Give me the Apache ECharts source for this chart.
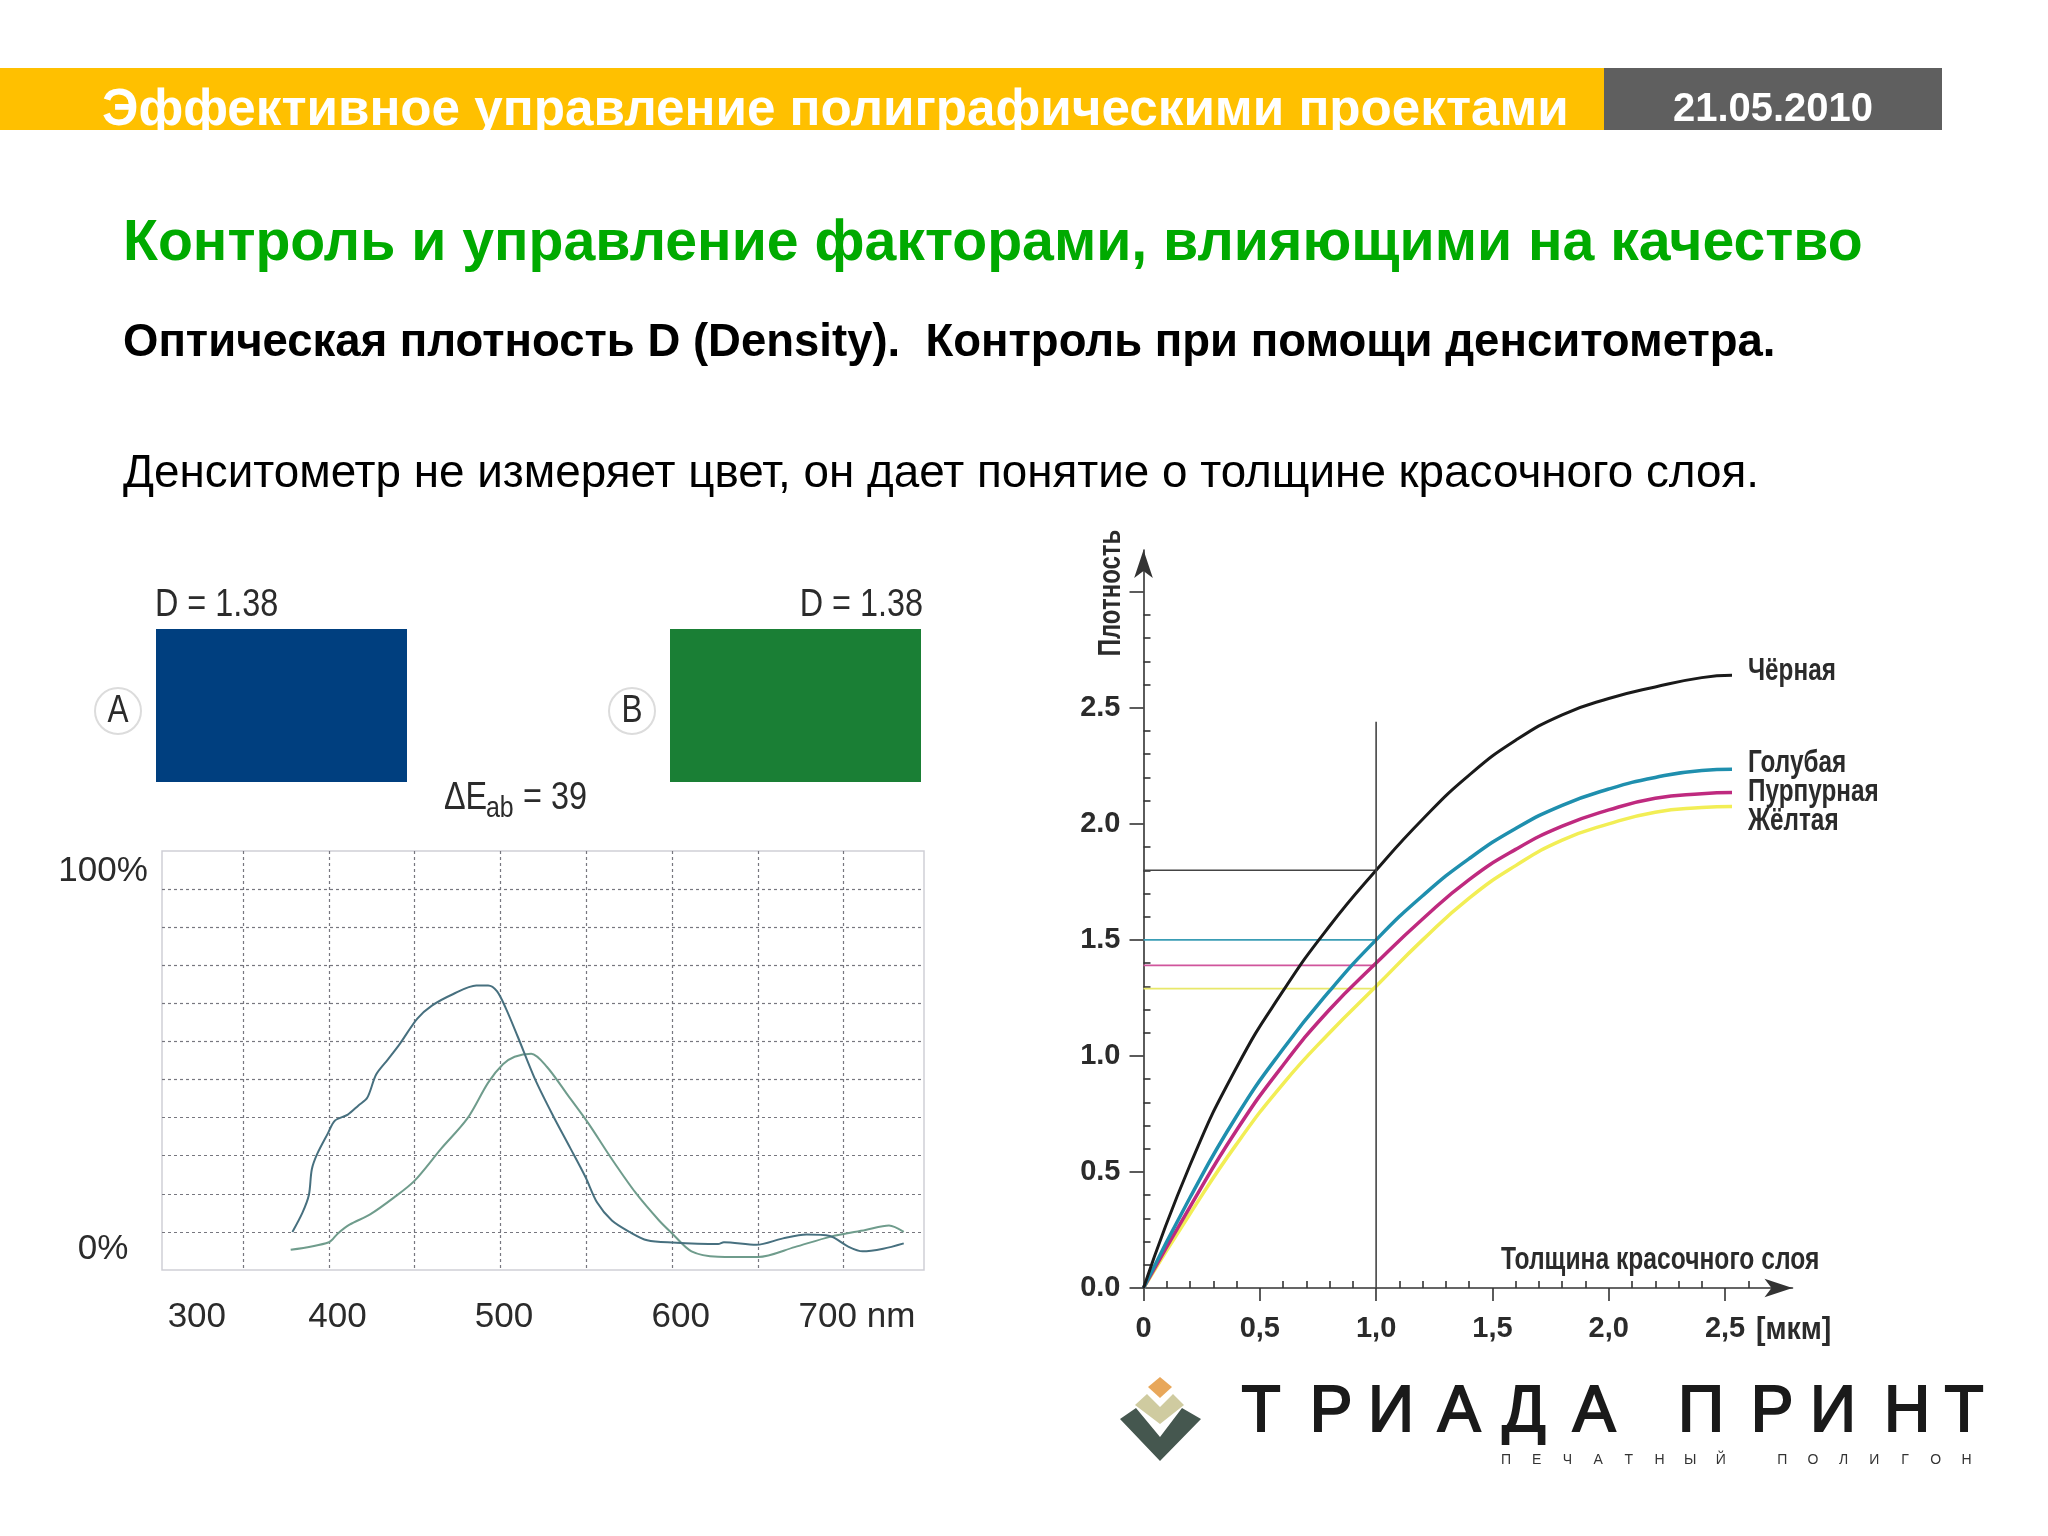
<!DOCTYPE html>
<html>
<head>
<meta charset="utf-8">
<script src="https://cdn.jsdelivr.net/npm/echarts@6/dist/echarts.min.js"></script>
<style>
  html, body { margin: 0; padding: 0; background: #fff; }
  #chart { width: 2048px; height: 1536px; }
</style>
</head>
<body>
<div id="chart"></div>
<script>
// spectrum chart, wavelength in nm and reflectance in %
const blueNm = [378.7, 384.5, 388.3, 390, 393.1, 399.3, 403.4, 411, 417.2, 422.3, 427.5, 434.4, 441.2, 451.5, 460, 472.2, 485.9, 492.8, 497.9, 503.1, 510, 520.3, 530.6, 540.9, 549.5, 556.3, 564.9, 575.2, 585.5, 600, 626.8, 630.2, 649.1, 664.6, 678.3, 692, 702.4, 711, 723, 735]
const bluePct = [0, 5, 9.7, 16.4, 20.4, 25.8, 29.2, 30.8, 33.2, 35.2, 41.3, 45.3, 49.3, 56, 59.4, 62.4, 64.7, 64.7, 63.2, 58.7, 51.3, 39.9, 30.5, 21.8, 14.4, 7.7, 3, 0, -2.2, -2.8, -3.2, -2.7, -3.4, -1.7, -0.7, -1.1, -3.8, -5.1, -4.4, -3]
const greenNm = [377.7, 400, 405.2, 412, 424, 437.8, 449.8, 465.3, 480.7, 492.8, 501.4, 508.2, 517.9, 527.1, 539.2, 551.2, 564.9, 578.7, 592.4, 600, 611.3, 626.8, 650.1, 671.4, 692, 712.7, 726.4, 735]
const greenPct = [-4.7, -2.7, -0.4, 1.9, 4.6, 9, 13.4, 21.8, 29.8, 39.2, 44, 46, 46.8, 43.3, 35.9, 28.5, 19.1, 10.3, 3, -0.4, -5.1, -6.5, -6.6, -4, -1.3, 0.5, 1.7, 0]
const nmGrid = [350, 400, 450, 500, 550, 600, 650, 700]
const pctGrid = [0, 10, 20, 30, 40, 50, 60, 70, 80, 90]
// the print has these labels off the grid lines, so they sit at their own axis values
const nmLabelAt = [323, 405, 502, 605, 707.7]
const nmLabels = ['300', '400', '500', '600', '700 nm']
const pctLabelAt = [-4.5, 94.7]
const pctLabels = ['0%', '100%']

// density chart, ink film thickness in micrometres
const thickness = [0, 0.2, 0.4, 0.6, 0.8, 1, 1.2, 1.4, 1.6, 1.8, 2, 2.2, 2.4, 2.53]
const blackD = [0, 0.53, 0.95, 1.28, 1.56, 1.8, 2.02, 2.21, 2.36, 2.47, 2.54, 2.59, 2.63, 2.64]
const cyanD = [0, 0.39, 0.74, 1.03, 1.28, 1.5, 1.69, 1.85, 1.98, 2.08, 2.15, 2.2, 2.23, 2.235]
const magentaD = [0, 0.35, 0.68, 0.96, 1.2, 1.4, 1.59, 1.76, 1.89, 1.99, 2.06, 2.11, 2.13, 2.135]
const yellowD = [0, 0.32, 0.62, 0.88, 1.1, 1.3, 1.5, 1.68, 1.82, 1.93, 2, 2.05, 2.07, 2.075]
const inkNames = ['Чёрная', 'Голубая', 'Пурпурная', 'Жёлтая']
const readX = 1
const readTop = 2.44
const readLevels = [1.8, 1.5, 1.39, 1.29]
const thicknessLabels = [0, 0.5, 1, 1.5, 2, 2.5]
const thicknessMinor = [0.1, 0.2, 0.3, 0.4, 0.6, 0.7, 0.8, 0.9, 1.1, 1.2, 1.3, 1.4, 1.6, 1.7, 1.8, 1.9, 2.1, 2.2, 2.3, 2.4, 2.6]
const densityLabels = [0, 0.5, 1, 1.5, 2, 2.5]
const densityMajor = [0, 0.5, 1, 1.5, 2, 2.5, 3]
const densityMinor = [0.1, 0.2, 0.3, 0.4, 0.6, 0.7, 0.8, 0.9, 1.1, 1.2, 1.3, 1.4, 1.6, 1.7, 1.8, 1.9, 2.1, 2.2, 2.3, 2.4, 2.6, 2.7, 2.8, 2.9]

const logoMain = [['Т', 1261], ['Р', 1331], ['И', 1391], ['А', 1459], ['Д', 1524], ['А', 1594], ['П', 1701], ['Р', 1772], ['И', 1833], ['Н', 1907], ['Т', 1964]]
const logoSub = 'ПЕЧАТНЫЙ ПОЛИГОН'

// no narrow face is installed, scaleX squeezes the free standing texts instead
const SANS = '"Liberation Sans", Arial, sans-serif'
const ink = '#2b2b2b'

function zip(xs, ys) {
  return xs.map((x, i) => [x, ys[i]])
}

function text(x, y, str, font, fill, align, sx, rotation) {
  return {
    type: 'text',
    x: x,
    y: y,
    scaleX: sx || 1,
    rotation: rotation || 0,
    z: 10,
    style: { text: str, font: font, fill: fill || '#000', align: align || 'left', verticalAlign: 'middle' }
  }
}

function rect(x, y, w, h, fill) {
  return { type: 'rect', shape: { x: x, y: y, width: w, height: h }, style: { fill: fill } }
}

function poly(points, fill) {
  return { type: 'polygon', shape: { points: points }, style: { fill: fill } }
}

function badge(x, y, letter) {
  return [
    { type: 'circle', shape: { cx: x, cy: y, r: 23 }, style: { fill: '#fff', stroke: '#dcdcdc', lineWidth: 2 } },
    text(x, y + 1, letter, '38px ' + SANS, ink, 'center', 0.83)
  ]
}

const graphics = [
  rect(0, 68, 1604, 62, '#ffc000'),
  rect(1604, 68, 338, 62, '#5f5f5f'),
  text(102, 111, 'Эффективное управление полиграфическими проектами', 'bold 51.2px ' + SANS, '#fff'),
  text(1773, 110, '21.05.2010', 'bold 40px ' + SANS, '#fff', 'center'),
  text(123, 244, 'Контроль и управление факторами, влияющими на качество', 'bold 57.2px ' + SANS, '#00aa00'),
  text(123, 343, 'Оптическая плотность D (Density).  Контроль при помощи денситометра.', 'bold 45.5px ' + SANS, '#000'),
  text(123, 474, 'Денситометр не измеряет цвет, он дает понятие о толщине красочного слоя.', '45.8px ' + SANS, '#000'),

  text(155, 605, 'D = 1.38', '39px ' + SANS, ink, 'left', 0.83),
  text(923, 605, 'D = 1.38', '39px ' + SANS, ink, 'right', 0.83),
  rect(156, 629, 251, 153, '#003f7f'),
  rect(670, 629, 251, 153, '#1a7f35'),
  ...badge(118, 711, 'A'),
  ...badge(632, 711, 'B'),
  text(444, 798, 'ΔE', '39px ' + SANS, ink, 'left', 0.83),
  text(486, 809, 'ab', '30px ' + SANS, ink, 'left', 0.83),
  text(523, 798, '= 39', '39px ' + SANS, ink, 'left', 0.83),

  text(1111, 593, 'Плотность', 'bold 32px ' + SANS, ink, 'center', 0.75, Math.PI / 2),
  text(1501, 1260, 'Толщина красочного слоя', 'bold 32px ' + SANS, ink, 'left', 0.77),
  text(1756, 1330, '[мкм]', 'bold 32px ' + SANS, ink, 'left', 0.89),
  text(1748, 671, inkNames[0], 'bold 32px ' + SANS, ink, 'left', 0.76),
  text(1748, 763, inkNames[1], 'bold 32px ' + SANS, ink, 'left', 0.76),
  text(1748, 792, inkNames[2], 'bold 32px ' + SANS, ink, 'left', 0.76),
  text(1748, 821, inkNames[3], 'bold 32px ' + SANS, ink, 'left', 0.76),

  poly([[1160, 1377], [1172, 1387], [1160, 1398], [1148, 1387]], '#e8a75a'),
  poly([[1147, 1394], [1160, 1407], [1173, 1394], [1184, 1405], [1160, 1424], [1135, 1405]], '#cfcba0'),
  poly([[1136, 1408], [1160, 1437], [1182, 1408], [1201, 1419], [1160, 1461], [1120, 1419]], '#45574f')
]
logoMain.forEach(p => {
  const letter = text(p[1], 1413, p[0], '64px ' + SANS, '#1a1a1a', 'center')
  letter.style.stroke = '#1a1a1a'
  letter.style.lineWidth = 2
  graphics.push(letter)
})
logoSub.split('').forEach((ch, i) => graphics.push(text(1506 + i * 30.7, 1460, ch, '14px ' + SANS, '#333', 'center')))

function curve(name, data, color, width) {
  return {
    name: name,
    type: 'line',
    xAxisIndex: 1,
    yAxisIndex: 1,
    data: zip(thickness, data),
    smooth: 0.5,
    showSymbol: false,
    lineStyle: { color: color, width: width }
  }
}

function level(y, color) {
  return {
    type: 'line',
    xAxisIndex: 1,
    yAxisIndex: 1,
    data: [[0, y], [readX, y]],
    showSymbol: false,
    lineStyle: { color: color, width: 1.6 }
  }
}

function spectrum(xs, ys, color) {
  return {
    type: 'line',
    data: zip(xs, ys),
    smooth: 0.3,
    showSymbol: false,
    lineStyle: { color: color, width: 2 }
  }
}

const axisInk = { color: '#333', width: 1.6 }

const option = {
  animation: false,
  backgroundColor: '#fff',
  graphic: graphics,
  grid: [
    { left: 162, top: 851, width: 762, height: 419, show: true, borderColor: '#cfcfd6', borderWidth: 1.5, backgroundColor: 'transparent' },
    { left: 1143.5, top: 550, width: 649, height: 738 }
  ],
  xAxis: [
    {
      type: 'value',
      gridIndex: 0,
      min: 302.7,
      max: 746.8,
      axisLine: { show: false },
      axisTick: { show: false, customValues: nmGrid },
      splitLine: { show: true, lineStyle: { color: '#77777f', type: [3, 3], width: 1.2 } },
      axisLabel: {
        customValues: nmLabelAt,
        margin: 30,
        color: ink,
        fontFamily: SANS,
        fontSize: 35,
        formatter: v => nmLabels[nmLabelAt.indexOf(v)]
      }
    },
    {
      type: 'value',
      gridIndex: 1,
      min: 0,
      max: 2.79,
      axisLine: { symbol: ['none', 'arrow'], symbolSize: [14, 28], lineStyle: axisInk },
      axisTick: { customValues: thicknessLabels, inside: false, length: 13, lineStyle: axisInk },
      splitLine: { show: false },
      axisLabel: {
        customValues: thicknessLabels,
        margin: 26,
        color: ink,
        fontFamily: SANS,
        fontWeight: 'bold',
        fontSize: 29,
        formatter: v => (v === 0 ? '0' : v.toFixed(1).replace('.', ','))
      }
    },
    {
      type: 'value',
      gridIndex: 1,
      min: 0,
      max: 2.79,
      axisLine: { show: false },
      axisTick: { customValues: thicknessMinor, length: 7, lineStyle: axisInk },
      splitLine: { show: false },
      axisLabel: { show: false }
    }
  ],
  yAxis: [
    {
      type: 'value',
      gridIndex: 0,
      min: -10,
      max: 100,
      axisLine: { show: false },
      axisTick: { show: false, customValues: pctGrid },
      splitLine: { show: true, lineStyle: { color: '#77777f', type: [3, 3], width: 1.2 } },
      axisLabel: {
        customValues: pctLabelAt,
        align: 'center',
        margin: 59,
        color: ink,
        fontFamily: SANS,
        fontSize: 35,
        formatter: v => pctLabels[pctLabelAt.indexOf(v)]
      }
    },
    {
      type: 'value',
      gridIndex: 1,
      min: 0,
      max: 3.18,
      axisLine: { symbol: ['none', 'arrow'], symbolSize: [14, 28], lineStyle: axisInk },
      axisTick: { customValues: densityMajor, length: 14, lineStyle: axisInk },
      splitLine: { show: false },
      axisLabel: {
        customValues: densityLabels,
        margin: 23,
        color: ink,
        fontFamily: SANS,
        fontWeight: 'bold',
        fontSize: 29,
        formatter: v => v.toFixed(1)
      }
    },
    {
      type: 'value',
      gridIndex: 1,
      min: 0,
      max: 3.18,
      axisLine: { show: false },
      axisTick: { customValues: densityMinor, length: 7, lineStyle: axisInk },
      splitLine: { show: false },
      axisLabel: { show: false }
    }
  ],
  series: [
    spectrum(greenNm, greenPct, '#6f9c8c'),
    spectrum(blueNm, bluePct, '#47707f'),
    level(readLevels[3], '#e8e86a'),
    level(readLevels[2], '#d0559c'),
    level(readLevels[1], '#3a9db5'),
    level(readLevels[0], '#444'),
    curve(inkNames[3], yellowD, '#f2ee55', 3.5),
    curve(inkNames[2], magentaD, '#bf2a7f', 3.5),
    curve(inkNames[1], cyanD, '#1f8fae', 3.5),
    curve(inkNames[0], blackD, '#1a1a1a', 3),
    {
      type: 'line',
      xAxisIndex: 1,
      yAxisIndex: 1,
      data: [[readX, 0], [readX, readTop]],
      showSymbol: false,
      lineStyle: { color: '#444', width: 1.6 }
    }
  ]
}

const chart = echarts.init(document.getElementById('chart'))
chart.setOption(option)
</script>
</body>
</html>
